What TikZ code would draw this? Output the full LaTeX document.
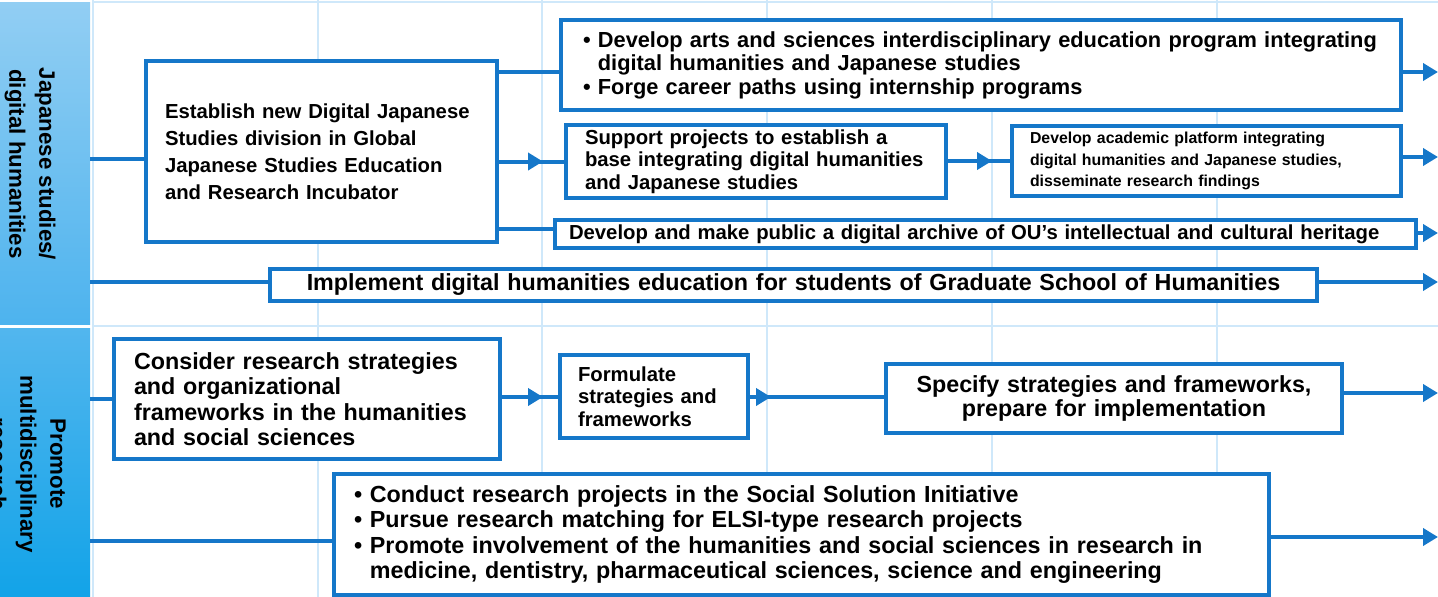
\documentclass[tikz,border=0pt]{standalone}
\usepackage{fontspec}
\setmainfont{Liberation Sans}
\usetikzlibrary{arrows.meta,calc}
\definecolor{bx}{HTML}{1577C9}
\definecolor{gridc}{HTML}{CFE8FA}
\definecolor{cAt}{HTML}{92CEF3}
\definecolor{cAb}{HTML}{4DB3EE}
\definecolor{cBt}{HTML}{52B6EE}
\definecolor{cBb}{HTML}{12A3E8}
\newcommand\fz[2]{\bfseries\fontsize{#1}{#2}\selectfont}
\tikzset{
  box/.style={draw=bx, line width=4pt, fill=white, anchor=north west, inner ysep=0pt, text=black, align=left},
  cbox/.style={box, align=center},
  conn/.style={draw=bx, line width=4pt},
  arr/.style={conn, -{Triangle[length=15pt,width=17pt]}},
  gridl/.style={draw=gridc, line width=2pt},
  lab/.style={rotate=-90, align=center, font=\fz{22.3}{30}, text=black}
}
\begin{document}
\begin{tikzpicture}[x=1pt,y=-1pt]
\useasboundingbox (0,0) rectangle (1438,597);
\clip (0,0) rectangle (1438,597);
% left column
\shade[top color=cAt, bottom color=cAb] (0,2) rectangle (90,324);
\shade[top color=cBt, bottom color=cBb] (0,328) rectangle (90,597);
% grid
\foreach \gx in {93,318,542,767,992,1217} \draw[gridl] (\gx,0) -- (\gx,597);
\draw[gridl] (92,2) -- (1438,2);
\draw[gridl] (92,326) -- (1438,326);
% labels
\node[lab] (lab1) at (30,164) {Japanese studies/\\digital humanities};
\node[lab] (lab2) at (28,464) {Promote\\multidisciplinary\\research};
% boxes
\node[box, font=\fz{20.3}{27}, minimum width=351pt, minimum height=181pt, inner xsep=19pt, text width=313pt] (S) at (144,59)
  {\mbox{Establish new Digital Japanese}\\Studies division in Global\\Japanese Studies Education\\and Research Incubator};
\node[box, font=\fz{21.8}{23.5}, minimum width=840pt, minimum height=90pt, inner xsep=22pt, text width=796pt] (A) at (559,18)
  {\mbox{\textbullet\ Develop arts and sciences interdisciplinary education program integrating}\\\phantom{\textbullet\ }digital humanities and Japanese studies\\\textbullet\ Forge career paths using internship programs};
\node[box, font=\fz{20.3}{22.5}, minimum width=380pt, minimum height=73pt, inner xsep=19pt, text width=342pt] (B) at (564,123)
  {\mbox{Support projects to establish a}\\\mbox{base integrating digital humanities}\\and Japanese studies};
\node[box, font=\fz{15.85}{21.5}, minimum width=389pt, minimum height=70pt, inner xsep=18pt, text width=353pt] (C) at (1010,124)
  {Develop academic platform integrating\\digital humanities and Japanese studies,\\disseminate research findings};
\node[box, font=\fz{20.3}{24}, minimum width=861pt, minimum height=28pt, inner xsep=14pt, text width=833pt] (D) at (553,218)
  {\mbox{Develop and make public a digital archive of OU’s intellectual and cultural heritage}};
\node[cbox, font=\fz{23.3}{27}, minimum width=1047pt, minimum height=32pt, inner xsep=20pt, text width=1007pt] (E) at (268,267)
  {\mbox{Implement digital humanities education for students of Graduate School of Humanities}};
\node[box, font=\fz{23.3}{25.5}, minimum width=386pt, minimum height=120pt, inner xsep=20pt, text width=346pt] (F) at (112,337)
  {\mbox{Consider research strategies}\\and organizational\\\mbox{frameworks in the humanities}\\and social sciences};
\node[box, font=\fz{20.3}{22.5}, minimum width=188pt, minimum height=83pt, inner xsep=18pt, text width=152pt] (G) at (558,353)
  {Formulate\\\mbox{strategies and}\\frameworks};
\node[cbox, font=\fz{23.3}{24.5}, minimum width=456pt, minimum height=69pt, inner xsep=20pt, text width=416pt] (H) at (884,362)
  {Specify strategies and frameworks,\\prepare for implementation};
\node[box, font=\fz{23.3}{25.5}, minimum width=935pt, minimum height=121pt, inner xsep=20pt, text width=895pt] (I) at (332,472)
  {\textbullet\ Conduct research projects in the Social Solution Initiative\\
   \textbullet\ Pursue research matching for ELSI-type research projects\\
   \mbox{\textbullet\ Promote involvement of the humanities and social sciences in research in}\\
   \mbox{\phantom{\textbullet\ }medicine, dentistry, pharmaceutical sciences, science and engineering}};
% reference coordinates
\coordinate (colR) at (90,0);
\coordinate (edge) at (1438,0);
\coordinate (m1) at (543,0);
\coordinate (m2) at (992,0);
\coordinate (m3) at (771,0);
\coordinate (yS) at (0,159);
\coordinate (yA) at (0,72);
\coordinate (yD) at (0,229);
\coordinate (yDr) at (0,233);
\coordinate (yE) at (0,282);
\coordinate (yF) at (0,399);
\coordinate (yG) at (0,397);
\coordinate (yH) at (0,393);
\coordinate (yI) at (0,541);
\coordinate (yIr) at (0,537);
\coordinate (yC) at (0,161);
\coordinate (yCr) at (0,157);
% connectors (top)
\draw[conn] (colR |- yS) -- (S.west |- yS);
\draw[conn] (colR |- yE) -- (E.west |- yE);
\draw[conn] (S.east |- yA) -- (A.west |- yA);
\draw[conn] (S.east |- B.west) -- (B.west);
\draw[arr] (S.east |- B.west) -- (m1 |- B.west);
\draw[conn] (B.east |- yC) -- (C.west |- yC);
\draw[arr] (B.east |- yC) -- (m2 |- yC);
\draw[conn] (S.east |- yD) -- (D.west |- yD);
\draw[arr] (A.east |- yA) -- (edge |- yA);
\draw[arr] (C.east |- yCr) -- (edge |- yCr);
\draw[arr] (D.east |- yDr) -- (edge |- yDr);
\draw[arr] (E.east |- yE) -- (edge |- yE);
% connectors (bottom)
\draw[conn] (colR |- yF) -- (F.west |- yF);
\draw[conn] (F.east |- yG) -- (G.west |- yG);
\draw[arr] (F.east |- yG) -- (m1 |- yG);
\draw[conn] (G.east |- yG) -- (H.west |- yG);
\draw[arr] (G.east |- yG) -- (m3 |- yG);
\draw[arr] (H.east |- yH) -- (edge |- yH);
\draw[conn] (colR |- yI) -- (I.west |- yI);
\draw[arr] (I.east |- yIr) -- (edge |- yIr);
\end{tikzpicture}
\end{document}
